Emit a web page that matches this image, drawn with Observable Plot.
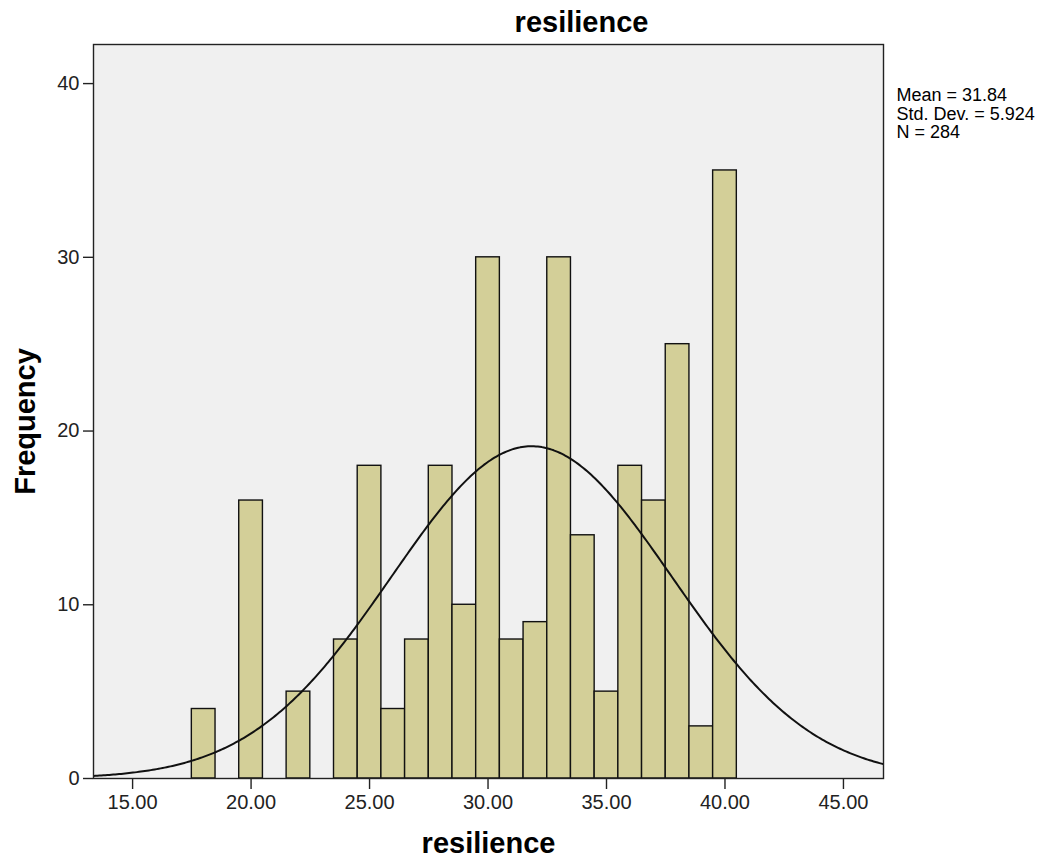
<!DOCTYPE html>
<html>
<head>
<meta charset="utf-8">
<script src="https://cdn.jsdelivr.net/npm/d3@7"></script>
<script src="https://cdn.jsdelivr.net/npm/@observablehq/plot@0.6"></script>
<style>
  html, body { margin: 0; padding: 0; background: #ffffff; }
  #chart { width: 1058px; height: 860px; }
</style>
</head>
<body>
<div id="chart"></div>
<script>
// Bin centres (bin width 1) and frequencies
const binCenters = [18, 19, 20, 21, 22, 23, 24, 25, 26, 27, 28, 29, 30, 31, 32, 33, 34, 35, 36, 37, 38, 39, 40];
const frequencies = [4, 0, 16, 0, 5, 0, 8, 18, 4, 8, 18, 10, 30, 8, 9, 30, 14, 5, 18, 16, 25, 3, 35];
const binWidth = 1;

// Summary statistics shown in the chart
const statMean = 31.84;
const statSD = 5.924;
const statN = 284;
const statLines = ["Mean = 31.84", "Std. Dev. = 5.924", "N = 284"];

// Axis ticks
const xTicks = [15, 20, 25, 30, 35, 40, 45];
const yTicks = [0, 10, 20, 30, 40];
const xDomain = [13.35, 46.69];
const yDomain = [0, 42.25];

const titleText = "resilience";
const xLabel = "resilience";
const yLabel = "Frequency";

const bins = binCenters
  .map((c, i) => ({x1: c - binWidth / 2, x2: c + binWidth / 2, count: frequencies[i]}))
  .filter(d => d.count > 0);

// Fitted normal curve (N * bin width * normal density), as SPSS draws it
const curveX = d3.range(0, 401).map(i => xDomain[0] + (xDomain[1] - xDomain[0]) * i / 400);
const curve = curveX.map(x => ({
  x,
  y: statN * binWidth * Math.exp(-0.5 * ((x - statMean) / statSD) ** 2) / (statSD * Math.sqrt(2 * Math.PI))
}));

const font = "'Liberation Sans', Arial, sans-serif";

const chart = Plot.plot({
  width: 1058,
  height: 860,
  marginLeft: 93,
  marginRight: 175,
  marginTop: 44,
  marginBottom: 82,
  style: {fontFamily: font, fontSize: "20px", color: "#222", background: "#ffffff"},
  x: {domain: xDomain},
  y: {domain: yDomain},
  marks: [
    Plot.frame({fill: "#f0f0f0", stroke: null}),
    Plot.rectY(bins, {x1: "x1", x2: "x2", y: "count", fill: "#d3cf98", stroke: "#111", strokeWidth: 1.4, inset: 0}),
    Plot.line(curve, {x: "x", y: "y", stroke: "#111", strokeWidth: 2, curve: "linear", clip: true}),
    Plot.frame({stroke: "#222", strokeWidth: 1.4}),
    Plot.axisX({ticks: xTicks, tickFormat: d3.format(".2f"), tickSize: 11, tickPadding: 5, label: null, fontSize: 20, stroke: "#222", strokeWidth: 1.4}),
    Plot.axisY({ticks: yTicks, tickSize: 10, tickPadding: 4, label: null, fontSize: 20, stroke: "#222", strokeWidth: 1.4}),
    Plot.text([titleText], {frameAnchor: "top", dx: 93, dy: -22, lineAnchor: "middle", fontSize: 29, fontWeight: "bold", fill: "#000"}),
    Plot.text([xLabel], {frameAnchor: "bottom", dx: 0, dy: 65, lineAnchor: "middle", fontSize: 29, fontWeight: "bold", fill: "#000"}),
    Plot.text([yLabel], {frameAnchor: "left", dx: -68, dy: 10, rotate: -90, lineAnchor: "middle", textAnchor: "middle", fontSize: 29, fontWeight: "bold", fill: "#000"}),
    Plot.text([statLines.join("\n")], {frameAnchor: "top-right", dx: 13, dy: 69, textAnchor: "start", lineAnchor: "middle", lineHeight: 1.05, fontSize: 18, fill: "#000"})
  ]
});
document.getElementById("chart").appendChild(chart);
</script>
</body>
</html>
